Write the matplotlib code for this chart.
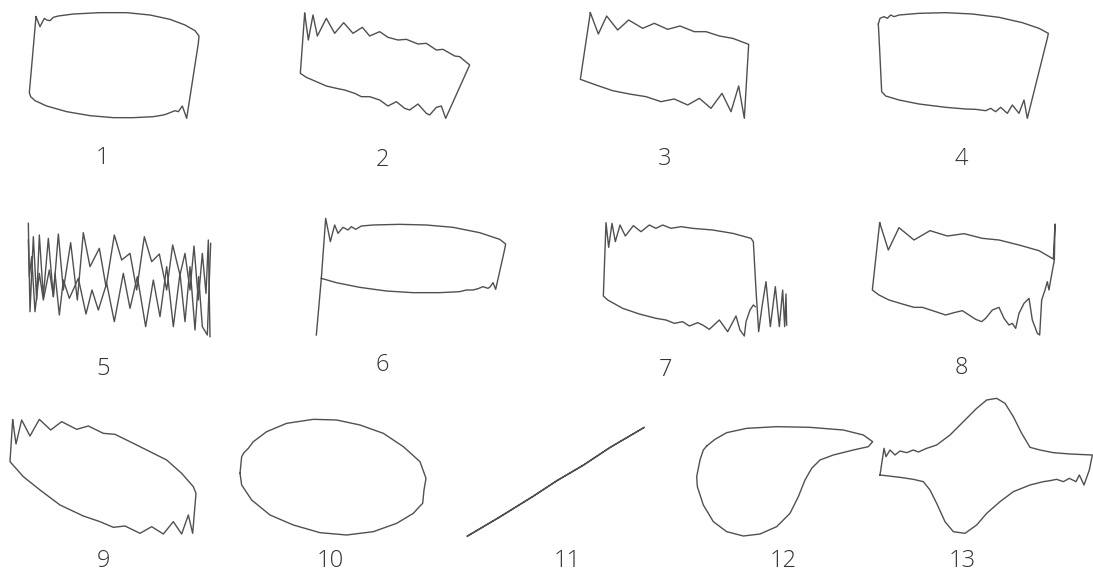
import matplotlib.pyplot as plt

W, H = 1093, 575

# traced loops, in panel units (x right, y down)
p1_x = [108, 120, 133, 140, 150, 160, 175, 220, 300, 380, 450, 510, 555, 585, 597, 595, 560, 547, 535, 525, 510, 500, 490, 460, 400, 340, 270, 200, 140, 105, 92, 88, 108]
p1_y = [50, 80, 55, 60, 62, 52, 48, 42, 38, 38, 45, 58, 75, 92, 108, 130, 355, 318, 335, 332, 338, 342, 345, 350, 353, 353, 347, 335, 318, 302, 290, 278, 50]

p2_x = [95, 106, 120, 133, 160, 185, 212, 240, 268, 290, 320, 345, 375, 400, 435, 460, 490, 510, 545, 560, 590, 518, 505, 490, 470, 460, 435, 410, 395, 370, 345, 320, 290, 265, 245, 215, 190, 160, 130, 100, 82, 95]
p2_y = [40, 120, 45, 108, 55, 100, 68, 100, 82, 108, 95, 112, 120, 118, 132, 130, 150, 148, 168, 170, 195, 355, 318, 322, 345, 340, 312, 330, 325, 305, 318, 300, 290, 290, 280, 270, 265, 258, 245, 232, 220, 40]

p3_x = [133, 157, 182, 215, 248, 290, 325, 365, 402, 445, 480, 520, 560, 608, 595, 578, 555, 528, 495, 460, 425, 385, 345, 300, 250, 200, 150, 103, 133]
p3_y = [38, 102, 48, 90, 60, 85, 70, 88, 78, 95, 95, 108, 115, 133, 355, 258, 335, 280, 325, 295, 315, 297, 305, 290, 282, 272, 255, 238, 38]

p4_x = [178, 183, 195, 205, 215, 225, 240, 300, 380, 460, 540, 610, 660, 688, 685, 625, 615, 600, 580, 565, 545, 530, 515, 500, 470, 440, 380, 300, 240, 200, 188, 182, 178]
p4_y = [72, 55, 50, 55, 45, 50, 45, 40, 38, 42, 52, 68, 85, 100, 115, 355, 300, 340, 315, 340, 322, 335, 325, 332, 328, 327, 322, 312, 300, 288, 275, 150, 72]

p5a_x = [85, 90, 100, 110, 118, 130, 145, 160, 175, 190, 212, 232, 250, 270, 298, 318, 343, 365, 390, 410, 433, 455, 478, 500, 518, 540, 555, 570, 582, 595, 607, 618, 625, 630]
p5a_y = [100, 365, 140, 330, 135, 320, 145, 320, 132, 300, 158, 330, 128, 230, 175, 290, 135, 210, 190, 300, 140, 215, 192, 300, 165, 255, 190, 300, 168, 330, 190, 310, 150, 440]
p5b_x = [632, 622, 607, 596, 585, 570, 555, 540, 520, 500, 480, 460, 437, 412, 390, 370, 343, 320, 295, 276, 258, 235, 208, 190, 178, 165, 160, 148, 130, 118, 105, 95, 88, 85]
p5b_y = [160, 435, 410, 260, 420, 230, 395, 250, 410, 230, 380, 270, 410, 260, 355, 250, 395, 280, 360, 300, 372, 265, 325, 270, 375, 250, 320, 240, 330, 250, 365, 200, 260, 150]

p6_x = [130, 145, 158, 172, 185, 195, 210, 225, 235, 248, 265, 300, 380, 460, 540, 620, 680, 698, 695, 668, 660, 652, 645, 630, 615, 600, 580, 560, 500, 420, 340, 260, 190, 145]
p6_y = [435, 265, 85, 155, 105, 130, 112, 120, 110, 118, 108, 105, 103, 105, 112, 128, 148, 162, 178, 298, 278, 290, 295, 290, 296, 300, 300, 305, 308, 308, 303, 292, 278, 265]

p7_x = [628, 622, 612, 600, 595, 582, 570, 545, 520, 490, 470, 455, 430, 410, 385, 360, 330, 280, 230, 185, 172, 180, 188, 198, 208, 222, 238, 262, 285, 310, 330, 350, 375, 405, 440, 500, 560, 615, 622, 630, 638, 648, 660, 673, 688, 700, 710, 716, 720, 722]
p7_y = [350, 345, 360, 395, 438, 420, 378, 425, 390, 418, 405, 398, 408, 395, 400, 390, 385, 372, 355, 330, 318, 98, 172, 100, 155, 105, 138, 107, 125, 105, 115, 105, 115, 110, 115, 120, 130, 145, 155, 300, 425, 350, 275, 410, 290, 410, 300, 410, 312, 405]

p8_x = [182, 208, 240, 285, 333, 385, 435, 490, 540, 600, 660, 703, 708, 706, 695, 690, 685, 678, 668, 662, 655, 640, 630, 615, 600, 590, 580, 570, 555, 540, 520, 500, 488, 470, 450, 430, 405, 380, 350, 310, 285, 250, 210, 180, 160, 182]
p8_y = [98, 180, 113, 150, 122, 138, 131, 145, 150, 165, 182, 207, 102, 210, 270, 300, 275, 300, 330, 435, 430, 390, 325, 340, 370, 415, 400, 405, 385, 352, 360, 385, 395, 388, 375, 362, 368, 375, 365, 352, 352, 342, 330, 315, 300, 98]

p9_x = [38, 48, 65, 90, 118, 152, 185, 230, 265, 310, 345, 400, 450, 500, 545, 580, 588, 578, 565, 545, 520, 490, 455, 420, 375, 340, 300, 250, 180, 120, 70, 30, 38]
p9_y = [90, 162, 90, 138, 88, 120, 95, 118, 108, 130, 133, 160, 185, 210, 250, 290, 310, 430, 375, 432, 395, 432, 410, 430, 408, 412, 395, 378, 345, 300, 260, 215, 90]

p10_x = [60, 65, 72, 85, 100, 140, 200, 280, 350, 420, 490, 550, 600, 618, 612, 608, 600, 580, 530, 460, 380, 300, 220, 150, 95, 65, 60]
p10_y = [250, 200, 188, 175, 155, 125, 100, 88, 90, 105, 130, 170, 215, 265, 300, 340, 348, 370, 400, 425, 435, 428, 405, 375, 330, 285, 250]

p11_x = [52, 150, 250, 320, 400, 480, 583, 480, 400, 320, 250, 150, 52]
p11_y = [438, 380, 318, 272, 225, 172, 112, 173, 226, 273, 319, 381, 439]

p12_x = [140, 165, 200, 260, 350, 450, 550, 610, 638, 625, 580, 520, 480, 455, 435, 415, 390, 350, 300, 250, 200, 160, 130, 112, 110, 120, 130, 140]
p12_y = [168, 148, 128, 115, 110, 112, 120, 135, 155, 170, 180, 195, 210, 235, 270, 320, 370, 410, 432, 438, 425, 395, 345, 290, 260, 210, 180, 168]

p13_x = [660, 672, 678, 690, 705, 720, 740, 760, 775, 800, 830, 870, 910, 950, 980, 1010, 1035, 1060, 1085, 1110, 1140, 1180, 1230, 1297, 1288, 1272, 1258, 1248, 1228, 1210, 1190, 1170, 1150, 1110, 1060, 1020, 980, 950, 915, 880, 855, 830, 810, 790, 760, 720, 660]
p13_y = [255, 175, 200, 180, 195, 183, 188, 180, 186, 175, 165, 135, 95, 55, 30, 25, 40, 80, 130, 172, 180, 188, 192, 195, 240, 285, 255, 275, 265, 275, 268, 272, 275, 285, 305, 335, 370, 405, 430, 425, 395, 340, 300, 275, 268, 262, 255]

labels = ["1", "2", "3", "4", "5", "6", "7", "8", "9", "10", "11", "12", "13"]
label_x = [103, 382, 665, 961, 103, 382, 665, 961, 103, 330, 567, 783, 962]
label_y = [158, 160, 159, 159, 369, 365, 370, 368, 561, 561, 561, 561, 561]

# panel boxes in pixels: left, top, width, height
boxes = [
    (0, 0, 273, 180), (273, 0, 273, 180), (546, 0, 273, 180), (819, 0, 274, 180),
    (0, 190, 273, 190), (273, 190, 273, 190), (546, 190, 273, 190), (819, 190, 274, 190),
    (0, 390, 230, 185), (220, 390, 240, 185), (450, 390, 220, 185), (660, 390, 433, 185),
]
curves = [
    [(p1_x, p1_y)], [(p2_x, p2_y)], [(p3_x, p3_y)], [(p4_x, p4_y)],
    [(p5a_x, p5a_y), (p5b_x, p5b_y)], [(p6_x, p6_y)], [(p7_x, p7_y)], [(p8_x, p8_y)],
    [(p9_x, p9_y)], [(p10_x, p10_y)], [(p11_x, p11_y)], [(p12_x, p12_y), (p13_x, p13_y)],
]

fig = plt.figure(figsize=(W / 100, H / 100), dpi=100)
fig.patch.set_facecolor("white")

for (bx, by, bw, bh), lines in zip(boxes, curves):
    ax = fig.add_axes([bx / W, 1 - (by + bh) / H, bw / W, bh / H])
    for xs, ys in lines:
        ax.plot(xs, ys, color="#505050", lw=1.0, solid_joinstyle="round")
    ax.set_xlim(0, bw * 3)
    ax.set_ylim(bh * 3, 0)
    ax.axis("off")

for t, x, y in zip(labels, label_x, label_y):
    fig.text(x / W, 1 - y / H, t, ha="center", va="center", fontsize=17,
             family="Open Sans", fontweight="light", color="#333333")

fig.savefig("out.png", dpi=100)
